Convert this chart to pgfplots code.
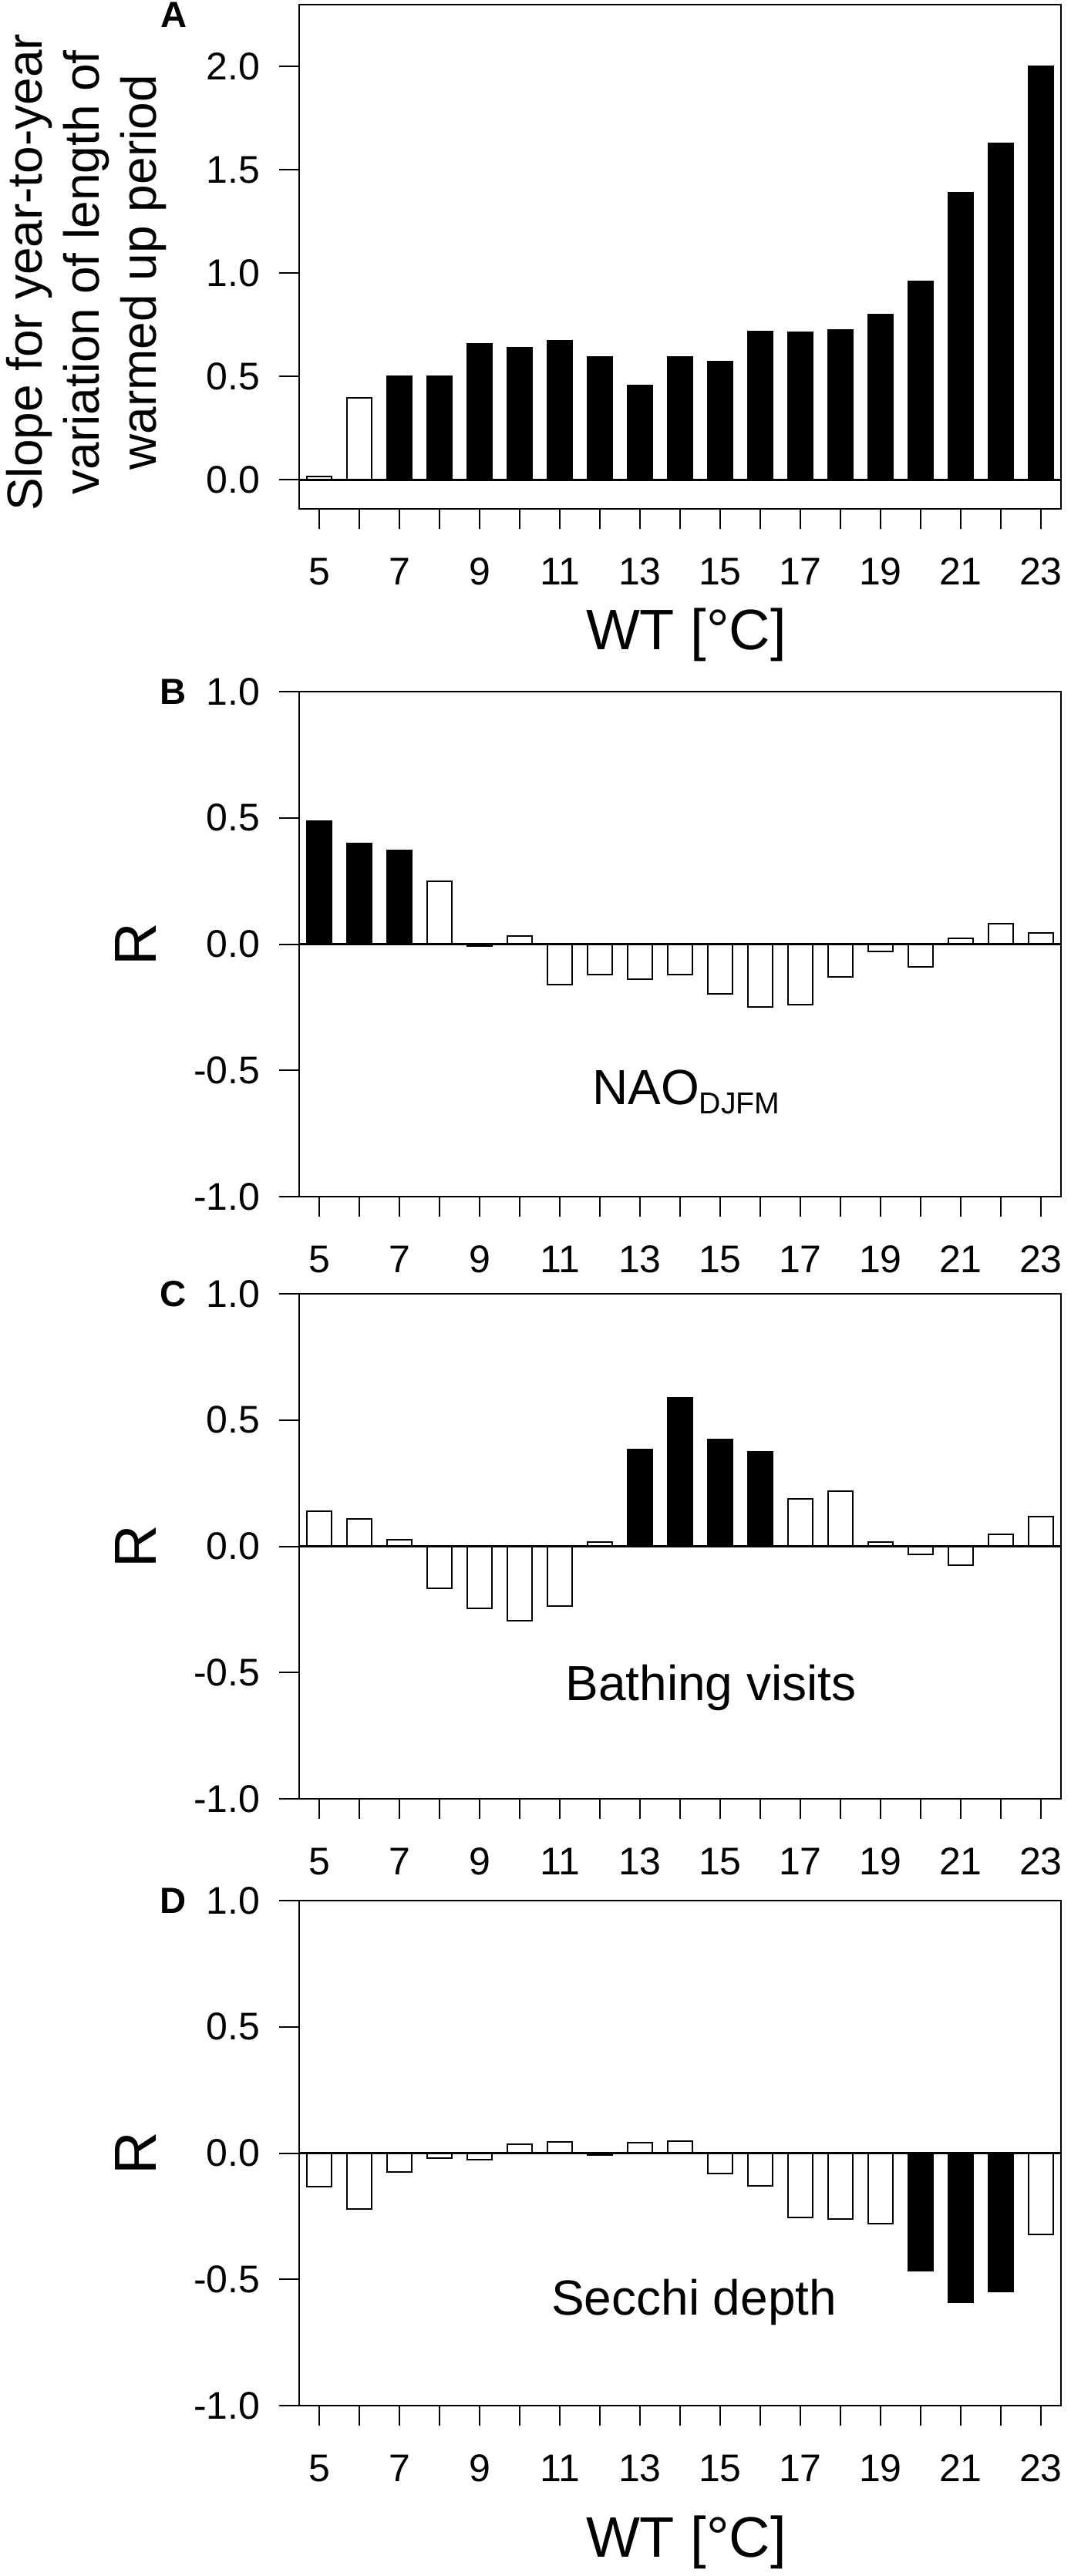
\documentclass[border=0pt]{standalone}
\usepackage{fontspec}
\setmainfont{Liberation Sans}
\usepackage{pgfplots}
\pgfplotsset{compat=1.18}

\pgfplotsset{
  panel/.style={
    scale only axis, width=247pt, height=163.75pt,
    anchor=north west,
    xmin=4.5, xmax=23.5,
    xtick={5,...,23},
    xticklabels={5,,7,,9,,11,,13,,15,,17,,19,,21,,23},
    xtick pos=left, ytick pos=left,
    tick align=outside,
    major tick length=6.5pt,
    tick style={line width=0.5pt, black},
    axis line style={line width=0.5pt},
    tick label style={font=\fontsize{12.5}{15}\selectfont, inner sep=0pt},
    xticklabel style={anchor=north, yshift=-9.25pt},
    yticklabel style={anchor=east, xshift=-6pt},
    clip=false,
  },
  rpanel/.style={panel, ymin=-1, ymax=1, ytick={-1,-0.5,0,0.5,1},
    yticklabels={-1.0,-0.5,0.0,0.5,1.0}},
  blackbar/.style={ybar, bar width=0.63, bar shift=0pt, fill=black, draw=black, line width=0.5pt},
  whitebar/.style={ybar, bar width=0.63, bar shift=0pt, fill=white, draw=black, line width=0.5pt},
  zeroline/.style={black, line width=0.8pt, mark=none},
}

\begin{document}
\begin{tikzpicture}
\path[use as bounding box] (0,0) rectangle (347.25pt,-835.25pt);

% ---------------- A ----------------
\begin{axis}[panel, at={(97pt,-1.5pt)}, height=163.5pt,
  ymin=-0.14, ymax=2.30, ytick={0,0.5,1,1.5,2},
  yticklabels={0.0,0.5,1.0,1.5,2.0}]
\addplot[whitebar] coordinates {(5,0.017) (6,0.397)};
\addplot[blackbar] coordinates {(7,0.50) (8,0.50) (9,0.658) (10,0.64) (11,0.673)
  (12,0.594) (13,0.456) (14,0.594) (15,0.573) (16,0.718) (17,0.714) (18,0.726)
  (19,0.80) (20,0.96) (21,1.39) (22,1.628) (23,2.0)};
\addplot[zeroline] coordinates {(4.5,0) (23.5,0)};
\node[xshift=-40.5pt, yshift=-3.25pt, anchor=center, font=\fontsize{11.8}{14}\selectfont\bfseries] at (rel axis cs:0,1) {A};
\node[xshift=-69pt, rotate=90, anchor=center, align=center, font=\fontsize{16}{18.4}\selectfont] at (rel axis cs:0,0.469)
  {Slope for year-to-year\\variation of length of\\warmed up period};
\node[yshift=-45.5pt, xshift=2pt, anchor=base, font=\fontsize{18.5}{22}\selectfont] at (rel axis cs:0.5,0) {WT [°C]};
\end{axis}

% ---------------- B ----------------
\begin{axis}[rpanel, at={(97pt,-224.25pt)}]
\addplot[blackbar] coordinates {(5,0.488) (6,0.40) (7,0.37)};
\addplot[whitebar] coordinates {(8,0.248) (9,-0.008) (10,0.033) (11,-0.159) (12,-0.122)
  (13,-0.14) (14,-0.122) (15,-0.198) (16,-0.25) (17,-0.24) (18,-0.13) (19,-0.03)
  (20,-0.089) (21,0.023) (22,0.08) (23,0.045)};
\addplot[zeroline] coordinates {(4.5,0) (23.5,0)};
\node[xshift=-40.75pt, anchor=center, font=\fontsize{11.8}{14}\selectfont\bfseries] at (rel axis cs:0,1) {B};
\node[xshift=-53.1pt, rotate=90, anchor=center, font=\fontsize{19.25}{22}\selectfont] at (rel axis cs:0,0.5) {R};
\node[anchor=base, font=\fontsize{16}{19}\selectfont] at (axis cs:14.15,-0.636)
  {NAO\raisebox{-3pt}{\fontsize{9.8}{11}\selectfont DJFM}};
\end{axis}

% ---------------- C ----------------
\begin{axis}[rpanel, at={(97pt,-419.5pt)}]
\addplot[whitebar] coordinates {(5,0.14) (6,0.109) (7,0.026) (8,-0.167) (9,-0.246)
  (10,-0.294) (11,-0.237) (12,0.017) (17,0.188) (18,0.217) (19,0.017) (20,-0.031)
  (21,-0.075) (22,0.048) (23,0.118)};
\addplot[blackbar] coordinates {(13,0.383) (14,0.587) (15,0.422) (16,0.374)};
\addplot[zeroline] coordinates {(4.5,0) (23.5,0)};
\node[xshift=-40.75pt, anchor=center, font=\fontsize{11.8}{14}\selectfont\bfseries] at (rel axis cs:0,1) {C};
\node[xshift=-53.1pt, rotate=90, anchor=center, font=\fontsize{19.25}{22}\selectfont] at (rel axis cs:0,0.5) {R};
\node[anchor=base, font=\fontsize{16}{19}\selectfont] at (axis cs:14.77,-0.61) {Bathing visits};
\end{axis}

% ---------------- D ----------------
\begin{axis}[rpanel, at={(97pt,-616.25pt)}]
\addplot[whitebar] coordinates {(5,-0.132) (6,-0.221) (7,-0.075) (8,-0.019) (9,-0.026)
  (10,0.035) (11,0.044) (12,-0.007) (13,0.04) (14,0.047) (15,-0.081) (16,-0.13)
  (17,-0.254) (18,-0.26) (19,-0.279) (23,-0.323)};
\addplot[blackbar] coordinates {(20,-0.465) (21,-0.591) (22,-0.549)};
\addplot[zeroline] coordinates {(4.5,0) (23.5,0)};
\node[xshift=-40.75pt, anchor=center, font=\fontsize{11.8}{14}\selectfont\bfseries] at (rel axis cs:0,1) {D};
\node[xshift=-53.1pt, rotate=90, anchor=center, font=\fontsize{19.25}{22}\selectfont] at (rel axis cs:0,0.5) {R};
\node[anchor=base, font=\fontsize{16}{19}\selectfont] at (axis cs:14.35,-0.64) {Secchi depth};
\node[yshift=-49pt, xshift=2pt, anchor=base, font=\fontsize{18.5}{22}\selectfont] at (rel axis cs:0.5,0) {WT [°C]};
\end{axis}
\end{tikzpicture}
\end{document}
